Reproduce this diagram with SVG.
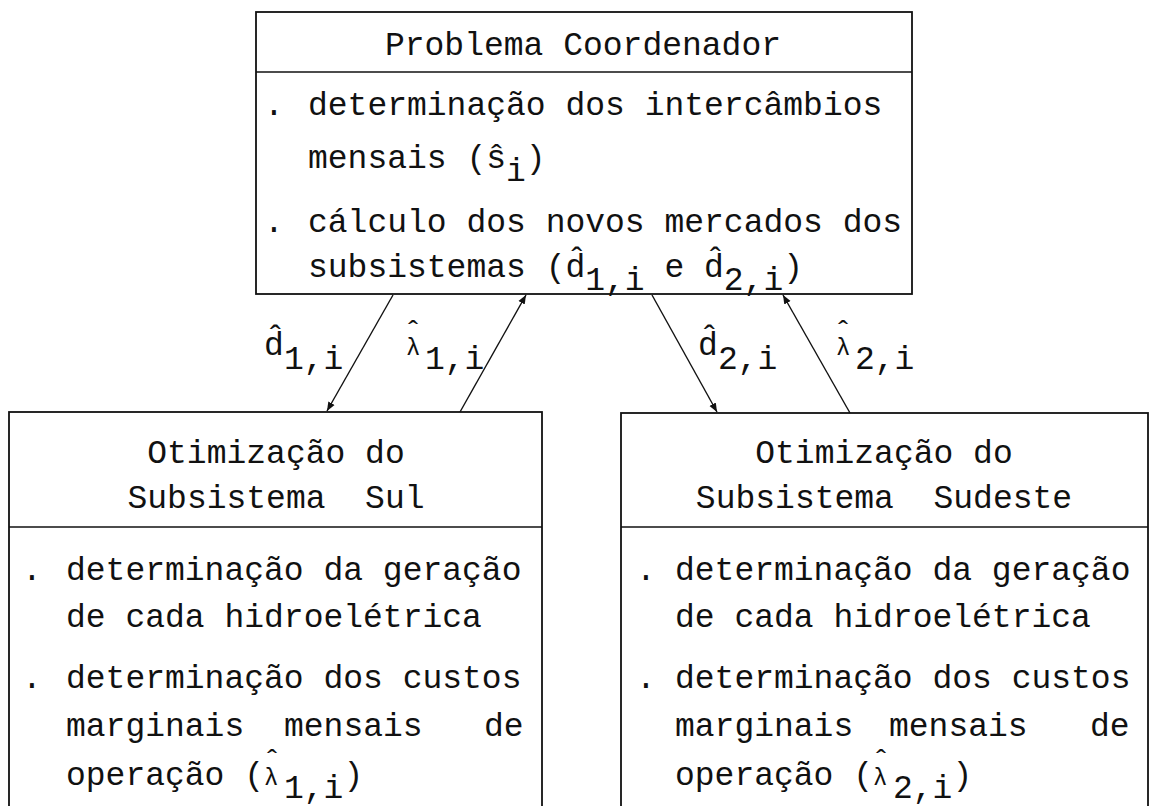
<svg xmlns="http://www.w3.org/2000/svg" width="1151" height="806" viewBox="0 0 1151 806">
<defs>
<style>
.box{fill:#fff;stroke:#111;stroke-width:1.8}
.div{stroke:#111;stroke-width:1.6}
.t{font-family:"Liberation Mono","DejaVu Sans Mono",monospace;font-size:33px;fill:#111}
.hat{font-family:"Liberation Mono","DejaVu Sans Mono",monospace;font-size:30px;fill:#111}
.lam{font-family:"Liberation Mono","DejaVu Sans Mono",monospace;font-size:24px;fill:#111}
.c{text-anchor:middle}
.arr{stroke:#111;stroke-width:1.4;fill:none;marker-end:url(#ah)}
</style>
<marker id="ah" viewBox="0 0 10 10" refX="10" refY="5" markerWidth="9" markerHeight="9" markerUnits="userSpaceOnUse" orient="auto">
<path d="M0,1 L10,5 L0,9 z" fill="#111"/>
</marker>
</defs>
<rect width="1151" height="806" fill="#fff"/>

<g id="coordenador">
<rect class="box" x="256" y="12" width="656" height="282"/>
<line class="div" x1="256" y1="72" x2="912" y2="72"/>
<text class="t c" x="583" y="55">Problema Coordenador</text>
<text class="t" x="264" y="115">.</text>
<text class="t" x="308" y="115">determinação dos intercâmbios</text>
<text class="t" x="308" y="168">mensais (ŝ<tspan dy="13">i</tspan><tspan dy="-13">)</tspan></text>
<text class="t" x="264" y="232">.</text>
<text class="t" x="308" y="232">cálculo dos novos mercados dos</text>
<text class="t" x="308" y="277">subsistemas (d̂<tspan x="585.2" y="290">1,i</tspan><tspan y="277"> e d̂</tspan><tspan x="723.8" y="290">2,i</tspan><tspan y="277">)</tspan></text>
</g>

<g id="sul">
<rect class="box" x="9" y="412" width="533" height="430"/>
<line class="div" x1="9" y1="527" x2="542" y2="527"/>
<text class="t c" x="276" y="463">Otimização do</text>
<text class="t c" x="276" y="508" xml:space="preserve">Subsistema  Sul</text>
<text class="t" x="22" y="580">.</text>
<text class="t" x="66" y="580">determinação da geração</text>
<text class="t" x="66" y="627">de cada hidroelétrica</text>
<text class="t" x="22" y="688">.</text>
<text class="t" x="66" y="688">determinação dos custos</text>
<text class="t" x="66" y="736">marginais<tspan x="284">mensais</tspan><tspan x="484">de</tspan></text>
<text class="t" x="66" y="785">operação (<tspan class="lam" x="264">λ</tspan><tspan class="hat" x="263" y="770">ˆ</tspan><tspan x="284" y="798">1,i</tspan><tspan y="785">)</tspan></text>
</g>

<g id="sudeste">
<rect class="box" x="621" y="413" width="527" height="430"/>
<line class="div" x1="621" y1="527" x2="1148" y2="527"/>
<text class="t c" x="884" y="463">Otimização do</text>
<text class="t c" x="884" y="508" xml:space="preserve">Subsistema  Sudeste</text>
<text class="t" x="636" y="580">.</text>
<text class="t" x="675" y="580">determinação da geração</text>
<text class="t" x="675" y="627">de cada hidroelétrica</text>
<text class="t" x="636" y="688">.</text>
<text class="t" x="675" y="688">determinação dos custos</text>
<text class="t" x="675" y="736">marginais<tspan x="889">mensais</tspan><tspan x="1090">de</tspan></text>
<text class="t" x="675" y="785">operação (<tspan class="lam" x="873">λ</tspan><tspan class="hat" x="872" y="770">ˆ</tspan><tspan x="893" y="798">2,i</tspan><tspan y="785">)</tspan></text>
</g>

<g id="connectors">
<line class="arr" x1="393" y1="295" x2="327" y2="411"/>
<line class="arr" x1="460" y1="412" x2="526" y2="295"/>
<line class="arr" x1="652" y1="295" x2="717" y2="412"/>
<line class="arr" x1="850" y1="413" x2="783" y2="295"/>
</g>

<g id="labels">
<text class="t" x="264" y="355">d̂<tspan x="284" y="369">1,i</tspan></text>
<text class="lam" x="406" y="355">λ<tspan class="hat" x="404" y="341">ˆ</tspan><tspan class="t" x="425" y="369">1,i</tspan></text>
<text class="t" x="698" y="355">d̂<tspan x="718" y="369">2,i</tspan></text>
<text class="lam" x="836" y="355">λ<tspan class="hat" x="834" y="341">ˆ</tspan><tspan class="t" x="855" y="369">2,i</tspan></text>
</g>
</svg>
